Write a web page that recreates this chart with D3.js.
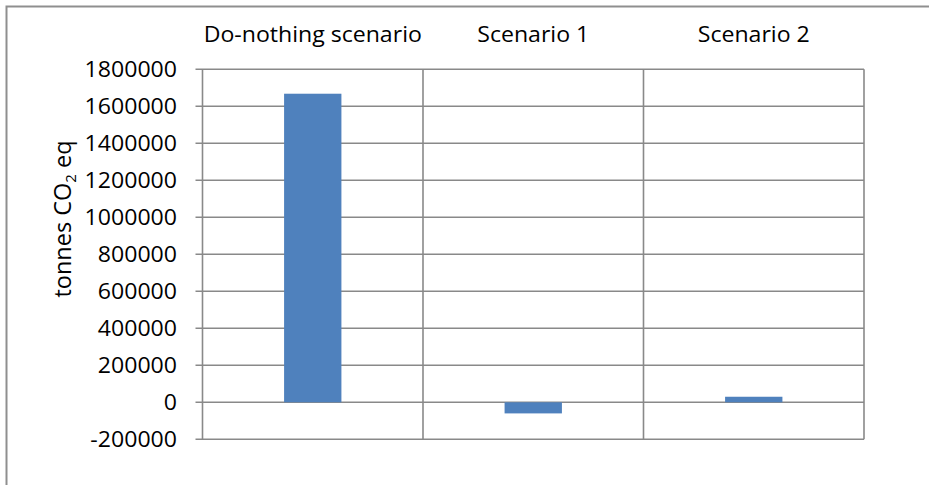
<!DOCTYPE html>
<html>
<head>
<meta charset="utf-8">
<script src="https://cdn.jsdelivr.net/npm/d3@7"></script>
<style>
  html, body { margin: 0; padding: 0; background: #fff; }
  svg { display: block; }
  text { font-family: "Open Sans", "Noto Sans", sans-serif; fill: #000; }
</style>
</head>
<body>
<svg id="chart" width="929" height="485"></svg>
<script>
const categories = ["Do-nothing scenario", "Scenario 1", "Scenario 2"];
const values = [1668000, -60000, 30000];
const yTicks = [-200000, 0, 200000, 400000, 600000, 800000, 1000000, 1200000, 1400000, 1600000, 1800000];
const yTitle = "tonnes CO";

const svg = d3.select("#chart");
const W = 929, H = 485;
const plot = { left: 202.5, right: 864, top: 69.3, bottom: 439.3 };
const gridColor = "#898989";
const barColor = "#4f81bd";
const stretch = 1.1;
const fontSize = 21;

// outer frame
svg.append("path")
  .attr("d", `M6.5,${H} L6.5,6.5 L${W},6.5`)
  .attr("fill", "none").attr("stroke", "#8f8f8f").attr("stroke-width", 2);

const x = d3.scaleBand().domain(categories).range([plot.left, plot.right]).paddingInner(0).paddingOuter(0);
const y = d3.scaleLinear().domain([-200000, 1800000]).range([plot.bottom, plot.top]);

// horizontal gridlines
svg.append("g").selectAll("line").data(yTicks).join("line")
  .attr("x1", plot.left - 7).attr("x2", plot.right)
  .attr("y1", d => y(d)).attr("y2", d => y(d))
  .attr("stroke", gridColor).attr("stroke-width", 1.6);

// vertical category separators + axis
const vx = [plot.left, ...categories.slice(1).map(c => x(c)), plot.right];
svg.append("g").selectAll("line").data(vx).join("line")
  .attr("x1", d => d).attr("x2", d => d)
  .attr("y1", plot.top).attr("y2", plot.bottom)
  .attr("stroke", gridColor).attr("stroke-width", 1.6);

// bars
const bw = x.bandwidth() * 0.26;
svg.append("g").selectAll("rect").data(values).join("rect")
  .attr("x", (d, i) => x(categories[i]) + x.bandwidth() / 2 - bw / 2)
  .attr("width", bw)
  .attr("y", d => y(Math.max(0, d)))
  .attr("height", d => Math.abs(y(d) - y(0)))
  .attr("fill", barColor);

// y tick labels
svg.append("g").selectAll("g").data(yTicks).join("g")
  .attr("transform", d => `translate(177,${y(d)}) scale(${stretch},1)`)
  .append("text")
  .attr("text-anchor", "end").attr("dy", "0.36em")
  .attr("font-size", fontSize)
  .text(d => String(d));

// category labels at top
svg.append("g").selectAll("g").data(categories).join("g")
  .attr("transform", d => `translate(${x(d) + x.bandwidth() / 2},42) scale(${stretch},1)`)
  .append("text")
  .attr("text-anchor", "middle")
  .attr("font-size", fontSize)
  .text(d => d);

// y axis title
const t = svg.append("text")
  .attr("transform", "translate(71,219) rotate(-90)")
  .attr("text-anchor", "middle")
  .attr("font-size", 23.5);
t.append("tspan").text(yTitle);
t.append("tspan").attr("font-size", 15).attr("dy", 5).text("2");
t.append("tspan").attr("dy", -5).text(" eq");
</script>
</body>
</html>
